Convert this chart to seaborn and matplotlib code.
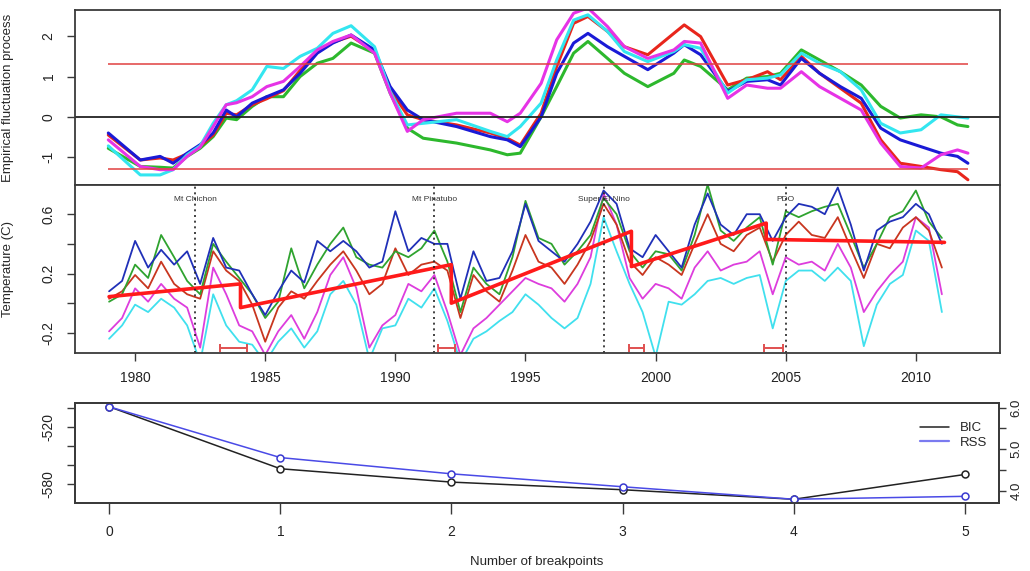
import numpy as np
import pandas as pd
import matplotlib
matplotlib.use("Agg")
import matplotlib.pyplot as plt
import seaborn as sns

# ── Data: empirical fluctuation process (top panel) ─────────────
top_years = [1978.97, 1980.2, 1980.96, 1981.46, 1982.0, 1982.5, 1983.0, 1983.5,
             1983.9, 1984.5, 1985.06, 1985.7, 1986.34, 1987.0, 1987.6, 1988.3,
             1989.2, 1989.8, 1990.46, 1991.07, 1992.35, 1993.65, 1994.3, 1994.8,
             1995.6, 1996.2, 1996.85, 1997.4, 1998.15, 1998.8, 1999.7, 2000.7,
             2001.1, 2001.73, 2002.77, 2003.5, 2004.3, 2004.8, 2005.6, 2006.3,
             2007.1, 2007.9, 2008.65, 2009.4, 2010.2, 2010.96, 2011.6, 2012.0]
efp_blue = [-0.40, -1.07, -0.98, -1.15, -0.90, -0.69, -0.40, 0.17, 0.00, 0.34, 0.50, 0.67,
            1.08, 1.58, 1.83, 2.03, 1.66, 0.75, 0.17, -0.07, -0.24, -0.49, -0.57, -0.74,
            0.00, 1.08, 1.83, 2.07, 1.74, 1.50, 1.17, 1.58, 1.79, 1.54, 0.63, 0.88,
            0.92, 0.79, 1.45, 1.08, 0.75, 0.46, -0.28, -0.57, -0.74, -0.90, -0.98, -1.15]
efp_red = [-0.45, -1.07, -1.02, -1.07, -0.92, -0.72, -0.45, 0.09, 0.05, 0.30, 0.45, 0.65,
           1.15, 1.60, 1.85, 2.00, 1.62, 0.67, 0.05, -0.07, -0.20, -0.40, -0.53, -0.70,
           0.09, 1.25, 2.32, 2.49, 2.12, 1.74, 1.54, 2.07, 2.28, 1.99, 0.79, 0.92,
           1.12, 0.92, 1.50, 1.08, 0.71, 0.34, -0.57, -1.15, -1.23, -1.31, -1.36, -1.56]
efp_magenta = [-0.57, -1.23, -1.31, -1.31, -0.98, -0.75, -0.24, 0.30, 0.35, 0.50, 0.75, 0.88,
               1.25, 1.66, 1.87, 2.03, 1.58, 0.59, -0.36, -0.07, 0.09, 0.09, -0.12, 0.09,
               0.83, 1.91, 2.57, 2.70, 2.24, 1.74, 1.45, 1.66, 1.87, 1.83, 0.46, 0.79,
               0.71, 0.71, 1.12, 0.75, 0.46, 0.17, -0.65, -1.23, -1.27, -0.94, -0.82, -0.90]
efp_cyan = [-0.72, -1.44, -1.44, -1.31, -0.94, -0.72, -0.16, 0.30, 0.40, 0.67, 1.25, 1.20,
            1.50, 1.70, 2.07, 2.26, 1.74, 0.63, -0.20, -0.16, -0.07, -0.36, -0.49, -0.24,
            0.34, 1.41, 2.40, 2.53, 2.12, 1.62, 1.37, 1.62, 1.79, 1.70, 0.59, 0.92,
            0.96, 1.04, 1.58, 1.33, 1.12, 0.67, -0.16, -0.40, -0.32, 0.05, 0.00, -0.03]
efp_green = [-0.78, -1.23, -1.25, -1.27, -0.98, -0.78, -0.49, -0.03, -0.07, 0.26, 0.50, 0.50,
             1.00, 1.33, 1.45, 1.83, 1.58, 0.59, -0.28, -0.53, -0.65, -0.82, -0.94, -0.90,
             0.00, 0.75, 1.58, 1.87, 1.45, 1.08, 0.75, 1.08, 1.41, 1.25, 0.67, 0.96,
             1.00, 1.08, 1.66, 1.41, 1.12, 0.79, 0.26, -0.03, 0.05, 0.00, -0.20, -0.24]
efp_crit = 1.3

# ── Data: temperature anomalies (middle panel), half-year samples ─
mid_years = np.arange(1979.0, 2011.01, 0.5)
temp_blue = [0.08, 0.15, 0.42, 0.24, 0.36, 0.26, 0.35, 0.13, 0.44, 0.24, 0.22, 0.06, -0.08, 0.08, 0.22, 0.14, 0.42, 0.35,
             0.42, 0.35, 0.24, 0.28, 0.62, 0.35, 0.44, 0.40, 0.40, 0.03, 0.35, 0.15, 0.17, 0.35, 0.67, 0.42, 0.35, 0.28,
             0.40, 0.55, 0.76, 0.67, 0.37, 0.31, 0.46, 0.35, 0.24, 0.53, 0.74, 0.53, 0.46, 0.60, 0.60, 0.42, 0.58, 0.67,
             0.65, 0.60, 0.78, 0.53, 0.22, 0.49, 0.55, 0.58, 0.67, 0.60, 0.40]
temp_green = [0.01, 0.06, 0.26, 0.17, 0.46, 0.31, 0.15, 0.06, 0.40, 0.28, 0.17, 0.06, -0.10, 0.01, 0.37, 0.10, 0.26, 0.40,
              0.51, 0.31, 0.26, 0.24, 0.35, 0.31, 0.37, 0.49, 0.28, -0.06, 0.24, 0.13, 0.06, 0.31, 0.69, 0.44, 0.40, 0.26,
              0.35, 0.46, 0.71, 0.60, 0.35, 0.24, 0.35, 0.33, 0.22, 0.46, 0.80, 0.49, 0.42, 0.51, 0.58, 0.26, 0.62, 0.58,
              0.62, 0.65, 0.67, 0.46, 0.24, 0.40, 0.58, 0.62, 0.76, 0.55, 0.44]
temp_red = [0.03, 0.08, 0.19, 0.10, 0.28, 0.13, 0.06, 0.03, 0.35, 0.22, 0.15, -0.01, -0.26, -0.03, 0.08, 0.03, 0.15, 0.26,
            0.35, 0.22, 0.06, 0.13, 0.37, 0.19, 0.26, 0.28, 0.22, -0.10, 0.19, 0.08, 0.01, 0.22, 0.46, 0.28, 0.24, 0.13,
            0.26, 0.42, 0.67, 0.53, 0.28, 0.19, 0.31, 0.26, 0.19, 0.40, 0.60, 0.40, 0.35, 0.46, 0.51, 0.28, 0.46, 0.55,
            0.46, 0.44, 0.58, 0.37, 0.17, 0.40, 0.37, 0.51, 0.58, 0.49, 0.24]
temp_magenta = [-0.19, -0.10, 0.10, 0.01, 0.13, 0.03, -0.03, -0.30, 0.24, 0.06, -0.15, -0.19, -0.35, -0.19, -0.08, -0.24, -0.06, 0.19,
                0.31, 0.10, -0.30, -0.15, -0.08, 0.13, 0.08, 0.19, -0.06, -0.35, -0.17, -0.10, -0.01, 0.08, 0.17, 0.13, 0.10, 0.01,
                0.13, 0.31, 0.74, 0.53, 0.17, 0.03, 0.13, 0.10, 0.03, 0.24, 0.35, 0.22, 0.26, 0.28, 0.35, 0.06, 0.31, 0.26,
                0.28, 0.22, 0.40, 0.24, -0.06, 0.08, 0.19, 0.28, 0.58, 0.51, 0.06]
temp_cyan = [-0.24, -0.15, -0.01, -0.06, 0.03, -0.03, -0.15, -0.40, 0.06, -0.15, -0.26, -0.28, -0.40, -0.26, -0.17, -0.30, -0.19, 0.06,
             0.15, -0.01, -0.38, -0.17, -0.15, 0.03, -0.03, 0.10, -0.12, -0.40, -0.24, -0.19, -0.12, -0.06, 0.06, -0.01, -0.10, -0.17,
             -0.10, 0.13, 0.58, 0.35, 0.13, -0.06, -0.36, 0.01, -0.01, 0.06, 0.15, 0.17, 0.13, 0.17, 0.19, -0.17, 0.15, 0.22,
             0.22, 0.15, 0.24, 0.15, -0.29, -0.01, 0.13, 0.19, 0.49, 0.42, -0.06]

# segmented fit: segment boundaries and fitted values at each segment's ends
seg_bounds = [1979.0, 1984.05, 1992.15, 1999.07, 2004.25, 2011.1]
seg_start_vals = [0.044, -0.03, 0.0, 0.247, 0.43]
seg_end_vals = [0.13, 0.26, 0.485, 0.54, 0.41]
# breakpoint confidence intervals
ci_lo = [1983.27, 1991.65, 1998.96, 2004.15]
ci_hi = [1984.30, 1992.30, 1999.54, 2004.88]
ci_level = -0.30
# events
event_years = [1982.3, 1991.5, 1998.0, 2005.0]
event_names = ["Mt Chichon", "Mt Pinatubo", "Super El Nino", "PDO"]

# ── Data: model selection (bottom panel) ───────────────────────
n_breaks = [0, 1, 2, 3, 4, 5]
bic = [-499, -564, -578, -586, -596, -570]
rss = [6.02, 4.80, 4.41, 4.10, 3.80, 3.87]

COL = {"red": "#e8261c", "green": "#2db82d", "blue": "#1a1ad6",
       "cyan": "#33e6f0", "magenta": "#e633e6"}
MID = {"red": "#c8361f", "green": "#2fa32f", "blue": "#2030b8",
       "cyan": "#40e0ee", "magenta": "#dd3ddd"}
FRAME = "#3a3a3a"

sns.set_theme(style="ticks")
plt.rcParams["font.family"] = ["Liberation Sans", "DejaVu Sans"]
plt.rcParams["axes.unicode_minus"] = False

fig = plt.figure(figsize=(10.3, 5.71), dpi=100)
ax_top = fig.add_axes([0.0728, 0.676, 0.898, 0.3065])
ax_mid = fig.add_axes([0.0728, 0.3818, 0.898, 0.2942])
ax_bot = fig.add_axes([0.0728, 0.1191, 0.8972, 0.1751])

def style_box(ax):
    for sp in ax.spines.values():
        sp.set_visible(True)
        sp.set_color(FRAME)
        sp.set_linewidth(1.3)
    ax.tick_params(direction="out", length=6, width=1, color=FRAME,
                   labelsize=10, labelcolor="#222222")
    ax.tick_params(axis="y", labelrotation=90)
    for lab in ax.get_yticklabels():
        lab.set_va("center")

# ── Top panel ──────────────────────────────────────────────────
top_df = pd.DataFrame({"year": top_years, "red": efp_red, "green": efp_green,
                       "blue": efp_blue, "cyan": efp_cyan, "magenta": efp_magenta})
for name in ["green", "red", "blue", "cyan", "magenta"]:
    sns.lineplot(data=top_df, x="year", y=name, ax=ax_top, color=COL[name],
                 lw=2.2, estimator=None, sort=False)
ax_top.axhline(0, color="#222222", lw=1.3)
for lvl in (efp_crit, -efp_crit):
    ax_top.hlines(lvl, top_years[0], top_years[-1], color="#e04040", lw=1.1)
ax_top.set_xlim(1977.69, 2013.23)
ax_top.set_ylim(-1.69, 2.65)
ax_top.set_yticks([-1, 0, 1, 2])
ax_top.set_xticks([])
ax_top.set_xlabel("")
ax_top.set_ylabel("Empirical fluctuation process", fontsize=9.5)
ax_top.yaxis.set_label_coords(-0.066, 0.5)
style_box(ax_top)
ax_top.tick_params(axis="y", pad=8)

# ── Middle panel ───────────────────────────────────────────────
mid_df = pd.DataFrame({"year": mid_years, "red": temp_red, "green": temp_green,
                       "blue": temp_blue, "cyan": temp_cyan, "magenta": temp_magenta})
for name in ["cyan", "magenta", "red", "green", "blue"]:
    sns.lineplot(data=mid_df, x="year", y=name, ax=ax_mid, color=MID[name],
                 lw=1.3, estimator=None, sort=False)

fit_x, fit_y = [], []
for i in range(len(seg_start_vals)):
    fit_x += [seg_bounds[i], seg_bounds[i + 1]]
    fit_y += [seg_start_vals[i], seg_end_vals[i]]
sns.lineplot(x=fit_x, y=fit_y, ax=ax_mid, color="#ff1a1a", lw=2.6,
             estimator=None, sort=False)

ci_mid = [(a + b) / 2 for a, b in zip(ci_lo, ci_hi)]
ci_half = [(b - a) / 2 for a, b in zip(ci_lo, ci_hi)]
ax_mid.errorbar(ci_mid, [ci_level] * len(ci_mid), xerr=ci_half, fmt="none",
                ecolor="#e05050", elinewidth=1.4, capsize=3, capthick=1.4)

for yr, name in zip(event_years, event_names):
    ax_mid.axvline(yr, color="#222222", lw=1.2, ls=(0, (1.2, 2.2)))
    ax_mid.text(yr, 0.70, name, ha="center", va="center", fontsize=6,
                color="#333333")

ax_mid.set_xlim(1977.69, 2013.23)
ax_mid.set_ylim(-0.336, 0.797)
ax_mid.set_xticks([1980, 1985, 1990, 1995, 2000, 2005, 2010])
ax_mid.set_yticks([-0.2, 0.0, 0.2, 0.4, 0.6])
ax_mid.set_yticklabels(["-0.2", "", "0.2", "", "0.6"])
ax_mid.set_xlabel("")
ax_mid.set_ylabel("Temperature (C)", fontsize=9.5)
ax_mid.yaxis.set_label_coords(-0.066, 0.5)
style_box(ax_mid)
ax_mid.tick_params(axis="y", pad=8)
ax_mid.tick_params(axis="x", pad=7)

# ── Bottom panel ───────────────────────────────────────────────
sel_df = pd.DataFrame({"breaks": n_breaks, "BIC": bic, "RSS": rss})
sns.lineplot(data=sel_df, x="breaks", y="BIC", ax=ax_bot, color="#222222",
             lw=1.1, marker="o", markersize=5, markerfacecolor="white",
             markeredgecolor="#222222", markeredgewidth=1.1)
ax_r = ax_bot.twinx()
sns.lineplot(data=sel_df, x="breaks", y="RSS", ax=ax_r, color="#4a4ae6",
             lw=1.1, marker="o", markersize=5, markerfacecolor="white",
             markeredgecolor="#3a3ad0", markeredgewidth=1.1)

ax_bot.set_xlim(-0.2, 5.2)
ax_bot.set_ylim(-599.9, -495.1)
ax_r.set_ylim(3.71, 6.11)
ax_bot.set_xticks(n_breaks)
ax_bot.set_yticks([-500, -520, -540, -560, -580])
ax_bot.set_yticklabels(["", "-520", "", "", "-580"])
ax_r.set_yticks([4.0, 4.5, 5.0, 5.5, 6.0])
ax_r.set_yticklabels(["4.0", "", "5.0", "", "6.0"])
ax_bot.set_ylabel("")
ax_r.set_ylabel("")
ax_bot.set_xlabel("Number of breakpoints", fontsize=9.5, labelpad=12)
style_box(ax_bot)
style_box(ax_r)
ax_bot.tick_params(axis="x", pad=8, length=8)
ax_bot.tick_params(axis="y", pad=8)
ax_r.tick_params(axis="y", pad=3, length=5, labelsize=9.5)

handles = [plt.Line2D([], [], color="#222222", lw=1.1),
           plt.Line2D([], [], color="#7a7af0", lw=1.6)]
ax_r.legend(handles, ["BIC", "RSS"], loc="upper right", frameon=False,
            fontsize=9.5, handlelength=2.2, bbox_to_anchor=(1.0, 0.93),
            labelspacing=0.2)

fig.savefig("out.png", dpi=100, facecolor="white")
